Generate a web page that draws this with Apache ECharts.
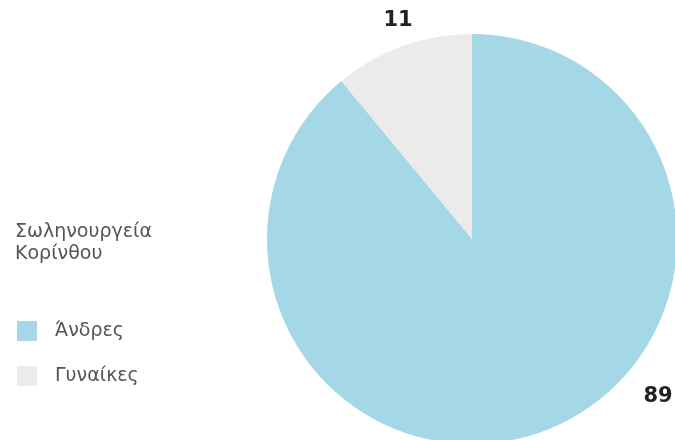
<!DOCTYPE html>
<html>
<head>
<meta charset="utf-8">
<script src="https://cdn.jsdelivr.net/npm/echarts@6/dist/echarts.min.js"></script>
<style>
  html, body { margin: 0; padding: 0; background: #fff; }
  #chart { width: 675px; height: 440px; }
</style>
</head>
<body>
<div id="chart"></div>
<script>
// Workforce composition by gender
const chartTitle = 'Σωληνουργεία\nΚορίνθου';
const categories = ['Άνδρες', 'Γυναίκες'];
const values = [89, 11];
const colors = ['#a5d8e6', '#ecebe9'];

// Label anchor points for each slice (outside the circle)
const labelSpots = [[658, 397], [398, 21]];

const chart = echarts.init(document.getElementById('chart'), null, { renderer: 'canvas' });

const textFont = 'DejaVu Sans';

chart.setOption({
  animation: false,
  color: colors,
  title: {
    text: chartTitle,
    left: 10,
    top: 216,
    textStyle: {
      fontFamily: textFont,
      fontSize: 19,
      fontWeight: 'normal',
      color: '#555',
      lineHeight: 22
    }
  },
  legend: {
    orient: 'vertical',
    left: 12,
    top: 316,
    itemWidth: 20,
    itemHeight: 20,
    itemGap: 25,
    icon: 'rect',
    data: categories,
    textStyle: {
      fontFamily: textFont,
      fontSize: 19,
      color: '#555',
      padding: [0, 0, 0, 13]
    }
  },
  series: [{
    type: 'pie',
    center: [472, 239],
    radius: [0, 205],
    startAngle: 90,
    clockwise: true,
    avoidLabelOverlap: false,
    data: categories.map((c, i) => ({ name: c, value: values[i] })),
    label: {
      show: true,
      position: 'outside',
      formatter: '{c}',
      fontFamily: textFont,
      fontSize: 21,
      fontWeight: 'bold',
      color: '#222'
    },
    labelLine: { show: false },
    labelLayout: function (p) {
      const s = labelSpots[p.dataIndex];
      return { x: s[0], y: s[1], align: 'center', verticalAlign: 'middle' };
    },
    emphasis: { disabled: true }
  }]
});
</script>
</body>
</html>
